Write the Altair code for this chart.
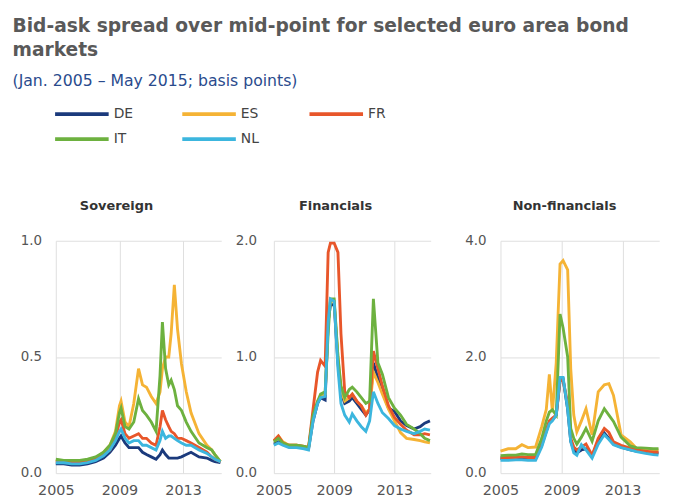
import altair as alt
import pandas as pd

COUNTRIES = ["DE", "ES", "FR", "IT", "NL"]
COLORS = ["#1b3a7c", "#f5b335", "#e8562a", "#6db13f", "#3cb6de"]

# ---------------- Sovereign ----------------
SOV_DATES = [2005.0, 2005.5, 2006.0, 2006.5, 2007.0, 2007.5, 2008.0, 2008.4, 2008.75, 2009.0,
             2009.1, 2009.35, 2009.6, 2009.9, 2010.2, 2010.45, 2010.7, 2011.0, 2011.3, 2011.55,
             2011.7, 2011.9, 2012.1, 2012.25, 2012.45, 2012.65, 2012.9, 2013.2, 2013.5, 2014.0,
             2014.5, 2014.8, 2015.0, 2015.35]
SOV_DE = [0.04, 0.04, 0.035, 0.035, 0.04, 0.05, 0.065, 0.09, 0.12, 0.15,
          0.16, 0.13, 0.11, 0.11, 0.11, 0.09, 0.08, 0.07, 0.06, 0.08,
          0.10, 0.08, 0.065, 0.065, 0.065, 0.065, 0.07, 0.08, 0.09, 0.07,
          0.065, 0.055, 0.05, 0.045]
SOV_ES = [0.055, 0.05, 0.05, 0.05, 0.055, 0.065, 0.09, 0.12, 0.18, 0.29,
          0.31, 0.22, 0.20, 0.30, 0.45, 0.38, 0.37, 0.33, 0.30, 0.35,
          0.45, 0.50, 0.50, 0.60, 0.81, 0.62, 0.47, 0.35, 0.26, 0.17,
          0.12, 0.10, 0.08, 0.05]
SOV_FR = [0.05, 0.05, 0.045, 0.045, 0.05, 0.06, 0.08, 0.10, 0.15, 0.22,
          0.23, 0.17, 0.15, 0.16, 0.17, 0.15, 0.15, 0.13, 0.12, 0.20,
          0.27, 0.23, 0.20, 0.18, 0.17, 0.15, 0.15, 0.14, 0.13, 0.11,
          0.09, 0.07, 0.06, 0.05]
SOV_IT = [0.06, 0.055, 0.055, 0.055, 0.06, 0.07, 0.09, 0.12, 0.17, 0.26,
          0.28, 0.20, 0.19, 0.22, 0.32, 0.27, 0.25, 0.22, 0.18, 0.42,
          0.65, 0.45, 0.38, 0.40, 0.36, 0.29, 0.27, 0.22, 0.18, 0.13,
          0.11, 0.10, 0.08, 0.05]
SOV_NL = [0.045, 0.045, 0.04, 0.04, 0.045, 0.055, 0.075, 0.10, 0.14, 0.18,
          0.19, 0.15, 0.13, 0.14, 0.14, 0.12, 0.12, 0.11, 0.10, 0.14,
          0.18, 0.15, 0.16, 0.16, 0.15, 0.14, 0.13, 0.12, 0.12, 0.10,
          0.085, 0.07, 0.06, 0.05]

# ---------------- Financials ----------------
FIN_DATES = [2005.0, 2005.3, 2005.6, 2006.0, 2006.5, 2007.0, 2007.3, 2007.6, 2007.9, 2008.1,
             2008.4, 2008.6, 2008.75, 2009.0, 2009.25, 2009.45, 2009.7, 2010.0, 2010.2, 2010.5,
             2010.8, 2011.1, 2011.35, 2011.6, 2011.9, 2012.2, 2012.6, 2013.0, 2013.4, 2013.8,
             2014.3, 2014.7, 2015.0, 2015.35]
FIN_DE = [0.25, 0.27, 0.25, 0.23, 0.23, 0.22, 0.21, 0.45, 0.60, 0.65,
          0.63, 1.30, 1.45, 1.45, 0.95, 0.70, 0.60, 0.62, 0.65, 0.60,
          0.55, 0.50, 0.55, 0.95, 0.82, 0.70, 0.56, 0.53, 0.45, 0.41,
          0.38, 0.40, 0.43, 0.45]
FIN_ES = [0.28, 0.32, 0.27, 0.24, 0.24, 0.23, 0.22, 0.48, 0.62, 0.66,
          0.68, 1.30, 1.48, 1.48, 1.00, 0.72, 0.62, 0.65, 0.68, 0.62,
          0.58, 0.52, 0.55, 0.87, 0.78, 0.68, 0.55, 0.45, 0.35, 0.30,
          0.29, 0.28, 0.27, 0.26]
FIN_FR = [0.28, 0.32, 0.26, 0.24, 0.24, 0.23, 0.22, 0.55, 0.87, 0.97,
          0.92, 1.90, 1.98, 1.98, 1.90, 1.20, 0.70, 0.65, 0.68, 0.62,
          0.58, 0.50, 0.55, 1.05, 0.90, 0.75, 0.58, 0.48, 0.42, 0.37,
          0.33, 0.33, 0.34, 0.33]
FIN_IT = [0.27, 0.30, 0.26, 0.24, 0.24, 0.23, 0.22, 0.50, 0.62, 0.68,
          0.70, 1.20, 1.50, 1.50, 1.00, 0.75, 0.65, 0.72, 0.74, 0.70,
          0.65, 0.60, 0.62, 1.50, 0.95, 0.85, 0.65, 0.56, 0.50, 0.42,
          0.38, 0.34, 0.30, 0.28]
FIN_NL = [0.24, 0.26, 0.24, 0.22, 0.22, 0.21, 0.20, 0.45, 0.60, 0.65,
          0.66, 1.30, 1.50, 1.48, 0.90, 0.60, 0.50, 0.44, 0.51, 0.45,
          0.40, 0.36, 0.45, 0.70, 0.60, 0.52, 0.47, 0.41, 0.38, 0.36,
          0.34, 0.36, 0.38, 0.37]

# ---------------- Non-financials ----------------
NFC_DATES = [2005.0, 2005.5, 2006.0, 2006.4, 2006.8, 2007.3, 2007.7, 2008.0, 2008.2, 2008.4,
             2008.65, 2008.9, 2009.1, 2009.4, 2009.6, 2009.8, 2010.0, 2010.3, 2010.6, 2011.0,
             2011.4, 2011.8, 2012.1, 2012.4, 2012.9, 2013.5, 2013.9, 2014.5, 2015.0, 2015.35]
NFC_DE = [0.25, 0.25, 0.25, 0.26, 0.25, 0.25, 0.48, 0.72, 0.88, 0.92,
          1.00, 1.60, 1.62, 1.10, 0.55, 0.40, 0.35, 0.40, 0.42, 0.30,
          0.55, 0.69, 0.60, 0.50, 0.45, 0.40, 0.38, 0.36, 0.35, 0.35]
NFC_ES = [0.38, 0.42, 0.42, 0.49, 0.44, 0.45, 0.80, 1.10, 1.70, 1.05,
          1.90, 3.60, 3.66, 3.50, 1.80, 1.00, 0.71, 0.90, 1.11, 0.66,
          1.40, 1.52, 1.54, 1.34, 0.66, 0.54, 0.43, 0.42, 0.40, 0.40]
NFC_FR = [0.27, 0.27, 0.27, 0.28, 0.27, 0.27, 0.50, 0.75, 0.90, 0.95,
          1.00, 1.60, 1.60, 1.20, 0.60, 0.45, 0.40, 0.45, 0.50, 0.31,
          0.60, 0.77, 0.70, 0.54, 0.48, 0.43, 0.40, 0.38, 0.36, 0.36]
NFC_IT = [0.30, 0.31, 0.31, 0.33, 0.32, 0.32, 0.60, 0.90, 1.05, 1.09,
          1.00, 2.74, 2.50, 2.00, 0.77, 0.60, 0.50, 0.62, 0.77, 0.55,
          0.90, 1.11, 1.00, 0.89, 0.62, 0.47, 0.44, 0.43, 0.42, 0.42]
NFC_NL = [0.22, 0.22, 0.23, 0.23, 0.22, 0.22, 0.45, 0.70, 0.85, 0.90,
          1.00, 1.65, 1.65, 1.10, 0.54, 0.35, 0.31, 0.49, 0.40, 0.26,
          0.50, 0.66, 0.58, 0.49, 0.44, 0.40, 0.37, 0.34, 0.32, 0.31]

X_TICKS = [2005, 2009, 2013]
WIDE = "DejaVu Sans"


def frame(dates, series):
    rows = []
    for c, vals in zip(COUNTRIES, series):
        for d, v in zip(dates, vals):
            rows.append({"date": d, "country": c, "value": v})
    return pd.DataFrame(rows)


def panel(df, title, ymax, yticks, width, label_pad, title_dx=0, show_legend=False):
    legend = None
    if show_legend:
        legend = alt.Legend(
            title=None, orient="none", legendX=-6, legendY=-140, columns=3,
            direction="horizontal",
            symbolType="M-1,0H27", symbolSize=16, symbolStrokeWidth=4,
            labelFont=WIDE, labelFontSize=14.5, labelColor="#444444", labelOffset=52,
            columnPadding=43, rowPadding=9.5, gridAlign="all",
        )
    return (
        alt.Chart(df, title=alt.TitleParams(
            title, font=WIDE, fontSize=13.5, fontWeight="bold", color="#333333",
            anchor="middle", frame="bounds", offset=23, dx=title_dx))
        .mark_line(strokeWidth=3)
        .encode(
            x=alt.X("date:Q",
                    scale=alt.Scale(domain=[2005, 2015.4], nice=False, zero=False),
                    axis=alt.Axis(values=X_TICKS, format="d", title=None, ticks=False,
                                  domain=False, labelPadding=10, labelFont=WIDE,
                                  labelFlush=False,
                                  labelFontSize=15, labelColor="#555555",
                                  gridColor="#dddddd")),
            y=alt.Y("value:Q",
                    scale=alt.Scale(domain=[0, ymax], nice=False),
                    axis=alt.Axis(values=yticks, format=".1f", title=None, ticks=False,
                                  domain=False, labelPadding=label_pad, labelFont=WIDE,
                                  labelFontSize=14, labelColor="#555555",
                                  gridColor="#dddddd")),
            color=alt.Color("country:N",
                            scale=alt.Scale(domain=COUNTRIES, range=COLORS),
                            legend=legend),
        )
        .properties(width=width, height=243)
    )


sov = panel(frame(SOV_DATES, [SOV_DE, SOV_ES, SOV_FR, SOV_IT, SOV_NL]),
            "Sovereign", 1.0, [0, 0.5, 1.0], 173, 15, title_dx=-7, show_legend=True)
fin = panel(frame(FIN_DATES, [FIN_DE, FIN_ES, FIN_FR, FIN_IT, FIN_NL]),
            "Financials", 2.0, [0, 1.0, 2.0], 164, 18)
nfc = panel(frame(NFC_DATES, [NFC_DE, NFC_ES, NFC_FR, NFC_IT, NFC_NL]),
            "Non-financials", 4.0, [0, 2.0, 4.0], 166, 15)

chart = (
    alt.hconcat(alt.hconcat(sov, fin, spacing=8), nfc, spacing=29)
    .properties(
        title=alt.TitleParams(
            ["Bid-ask spread over mid-point for selected euro area bond", "markets"],
            subtitle="(Jan. 2005 \u2013 May 2015; basis points)",
            anchor="start", frame="bounds", font=WIDE, fontSize=19.5, fontWeight="bold",
            color="#595959", lineHeight=25, subtitleFont=WIDE, subtitleFontSize=16.4,
            subtitleColor="#2a4b8d", subtitlePadding=14, offset=17, dx=-8),
        padding={"left": 4, "top": -2, "right": 0, "bottom": 0},
    )
    .configure_view(stroke=None)
)

chart.save("out.html", embed_options={"renderer": "svg", "actions": False})
